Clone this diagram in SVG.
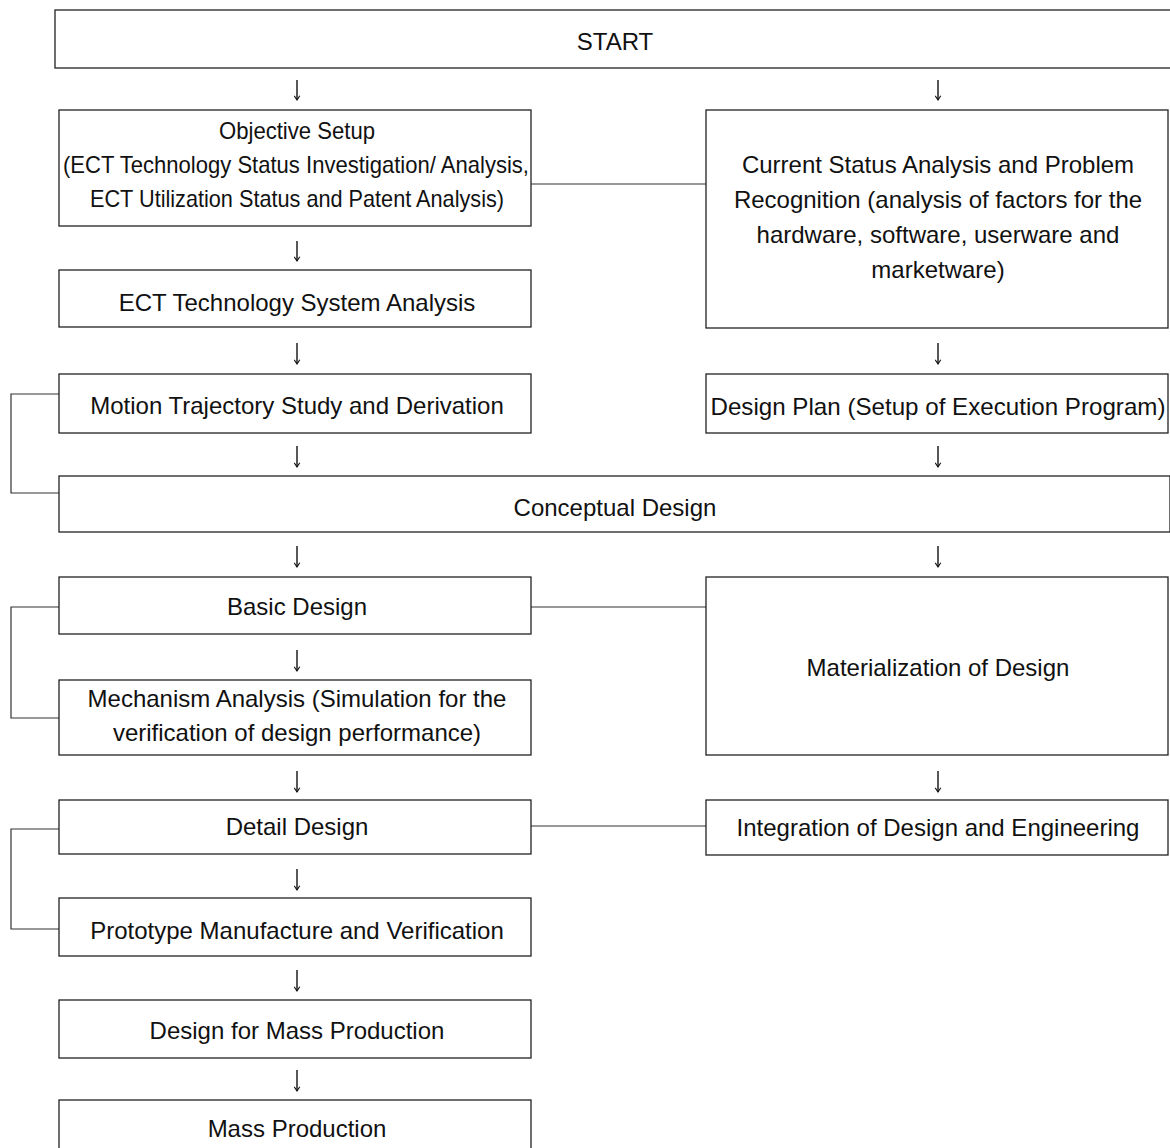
<svg xmlns="http://www.w3.org/2000/svg" width="1170" height="1148" viewBox="0 0 1170 1148">
<style>
.box{fill:#fff;stroke:#222;stroke-width:1.3}
.t{font-family:"Liberation Sans",Arial,sans-serif;font-size:24px;fill:#111;text-anchor:middle;dominant-baseline:central}
.ln{fill:none;stroke:#333;stroke-width:1.2}
.ar{fill:none;stroke:#111;stroke-width:1.4;marker-end:url(#ah)}
</style>
<defs>
<marker id="ah" viewBox="0 0 10 10" refX="9" refY="5" markerWidth="7" markerHeight="7" orient="auto" markerUnits="userSpaceOnUse">
<path d="M3,1 L9,5 L3,9" fill="none" stroke="#111" stroke-width="1.6"/>
</marker>
</defs>
<rect width="1170" height="1148" fill="#fff"/>
<g id="connectors">
<path class="ar" d="M297,80 V100"/>
<path class="ar" d="M938,80 V100"/>
<path class="ar" d="M297,241 V261"/>
<path class="ar" d="M297,343 V364"/>
<path class="ar" d="M938,343 V364"/>
<path class="ar" d="M297,446 V467"/>
<path class="ar" d="M938,446 V467"/>
<path class="ar" d="M297,546 V567"/>
<path class="ar" d="M938,546 V567"/>
<path class="ar" d="M297,650 V671"/>
<path class="ar" d="M297,771 V792"/>
<path class="ar" d="M938,771 V792"/>
<path class="ar" d="M297,869 V890"/>
<path class="ar" d="M297,970 V991"/>
<path class="ar" d="M297,1070 V1091"/>
<path class="ln" d="M531,184 H706"/>
<path class="ln" d="M531,607 H706"/>
<path class="ln" d="M531,826 H706"/>
<path class="ln" d="M59,394 H11 V493 H59"/>
<path class="ln" d="M59,607 H11 V718 H59"/>
<path class="ln" d="M59,829 H11 V929 H59"/>
</g>
<g id="start"><rect class="box" x="55" y="10" width="1125" height="58"/><text class="t" x="615" y="41">START</text></g>
<g id="objective"><rect class="box" x="59" y="110" width="472" height="116"/>
<text class="t" x="297" y="130" textLength="156" lengthAdjust="spacingAndGlyphs">Objective Setup</text>
<text class="t" x="296" y="164" textLength="466" lengthAdjust="spacingAndGlyphs">(ECT Technology Status Investigation/ Analysis,</text>
<text class="t" x="297" y="198" textLength="414" lengthAdjust="spacingAndGlyphs">ECT Utilization Status and Patent Analysis)</text></g>
<g id="current"><rect class="box" x="706" y="110" width="462" height="218"/>
<text class="t" x="938" y="164">Current Status Analysis and Problem</text>
<text class="t" x="938" y="199">Recognition (analysis of factors for the</text>
<text class="t" x="938" y="234">hardware, software, userware and</text>
<text class="t" x="938" y="269">marketware)</text></g>
<g id="ect"><rect class="box" x="59" y="270" width="472" height="57"/><text class="t" x="297" y="302">ECT Technology System Analysis</text></g>
<g id="motion"><rect class="box" x="59" y="374" width="472" height="59"/><text class="t" x="297" y="405">Motion Trajectory Study and Derivation</text></g>
<g id="plan"><rect class="box" x="706" y="374" width="462" height="59"/><text class="t" x="938" y="406" textLength="455" lengthAdjust="spacingAndGlyphs">Design Plan (Setup of Execution Program)</text></g>
<g id="conceptual"><rect class="box" x="59" y="476" width="1111" height="56"/><text class="t" x="615" y="507">Conceptual Design</text></g>
<g id="basic"><rect class="box" x="59" y="577" width="472" height="57"/><text class="t" x="297" y="606">Basic Design</text></g>
<g id="materialization"><rect class="box" x="706" y="577" width="462" height="178"/><text class="t" x="938" y="667">Materialization of Design</text></g>
<g id="mechanism"><rect class="box" x="59" y="680" width="472" height="75"/>
<text class="t" x="297" y="698">Mechanism Analysis (Simulation for the</text>
<text class="t" x="297" y="732">verification of design performance)</text></g>
<g id="detail"><rect class="box" x="59" y="800" width="472" height="54"/><text class="t" x="297" y="826">Detail Design</text></g>
<g id="integration"><rect class="box" x="706" y="800" width="462" height="55"/><text class="t" x="938" y="827">Integration of Design and Engineering</text></g>
<g id="prototype"><rect class="box" x="59" y="898" width="472" height="58"/><text class="t" x="297" y="930">Prototype Manufacture and Verification</text></g>
<g id="dfm"><rect class="box" x="59" y="1000" width="472" height="58"/><text class="t" x="297" y="1030">Design for Mass Production</text></g>
<g id="mass"><rect class="box" x="59" y="1100" width="472" height="60"/><text class="t" x="297" y="1128">Mass Production</text></g>
</svg>
